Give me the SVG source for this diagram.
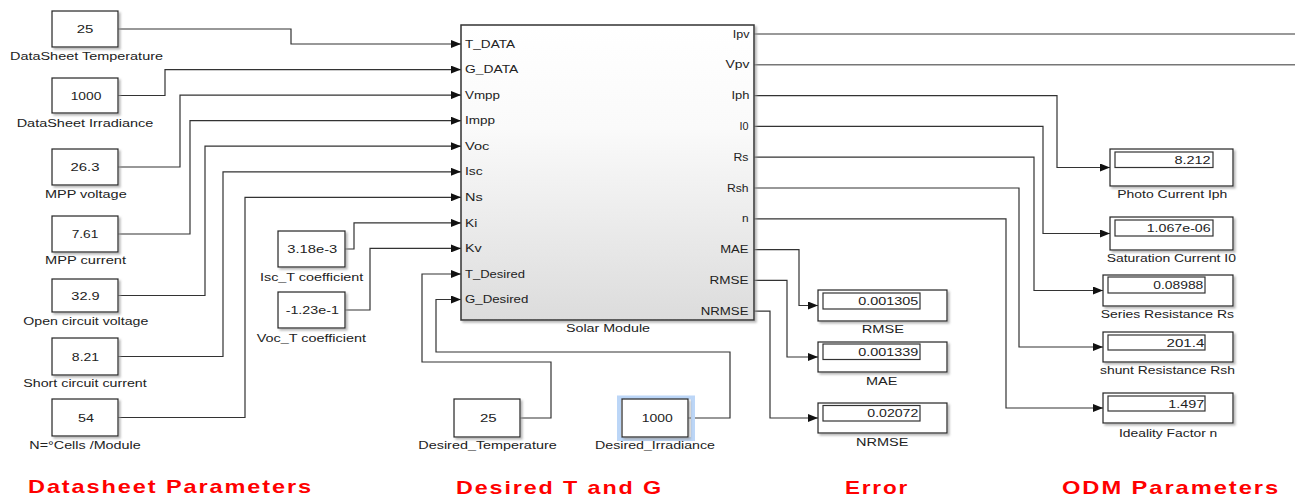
<svg xmlns="http://www.w3.org/2000/svg" width="1295" height="497" viewBox="0 0 1295 497">
<style>
text{font-family:"Liberation Sans",Arial,sans-serif;fill:#222}
.blk{fill:#fff;stroke:#222;stroke-width:1.2;filter:url(#sh)}
.fld{fill:#fff;stroke:#333;stroke-width:1.2}
.lbl{font-size:10px}
.val{font-size:11px}
.port{font-size:10px}
.ttl{font-size:18.5px;font-weight:bold;fill:#ff0000;letter-spacing:1.5px}
.w{fill:none;stroke:#333;stroke-width:1.2}
.wa{fill:none;stroke:#333;stroke-width:1.2;marker-end:url(#ar)}
.wg{fill:none;stroke:#777;stroke-width:1.6}
</style>
<defs>
<marker id="ar" markerWidth="10" markerHeight="8" refX="10" refY="4" orient="auto" markerUnits="userSpaceOnUse">
<path d="M0,0 L10,4 L0,8 z" fill="#111"/>
</marker>
<filter id="sh" x="-10%" y="-10%" width="130%" height="130%">
<feDropShadow dx="2" dy="2" stdDeviation="1" flood-color="#999" flood-opacity="0.7"/>
</filter>
<linearGradient id="g" x1="0" y1="0" x2="0" y2="1">
<stop offset="0" stop-color="#ffffff"/>
<stop offset="0.35" stop-color="#fafafa"/>
<stop offset="1" stop-color="#dcdcdc"/>
</linearGradient>
</defs>
<rect width="1295" height="497" fill="#fff"/>

<g id="connectors">
<path class="wa" d="M118,29 H291 V44 H461"/>
<path class="wa" d="M118,95.5 H165 V69.6 H461"/>
<path class="wa" d="M118,167 H180 V95.1 H461"/>
<path class="wa" d="M118,234 H190 V120.7 H461"/>
<path class="wa" d="M118,295.5 H205 V146.2 H461"/>
<path class="wa" d="M118,356.5 H223 V171.8 H461"/>
<path class="wa" d="M118,417.5 H245 V197.3 H461"/>
<path class="wa" d="M345,249 H354 V222.9 H461"/>
<path class="wa" d="M345,310 H370 V248.4 H461"/>
<path class="wa" d="M520,418 H551 V362 H422 V274 H461"/>
<path class="wa" d="M688,418 H730 V352 H436 V299.5 H461"/>
<path class="wg" d="M754,34 H1295"/>
<path class="wg" d="M754,64.8 H1295"/>
<path class="wa" d="M754,95.6 H1057 V167.5 H1110"/>
<path class="wa" d="M754,126.4 H1043 V233.5 H1110"/>
<path class="wa" d="M754,157.2 H1034 V290.5 H1103"/>
<path class="wa" d="M754,188 H1019 V347 H1103"/>
<path class="wa" d="M754,218.8 H1006 V408 H1103"/>
<path class="wa" d="M754,249.6 H799 V305.5 H818"/>
<path class="wa" d="M754,280.4 H787 V357 H818"/>
<path class="wa" d="M754,311.2 H770 V418 H818"/>
</g>

<g id="c_dstemp"><rect class="blk" x="52" y="11" width="66" height="36"/><text class="val" x="85" y="33" text-anchor="middle" textLength="16.7" lengthAdjust="spacingAndGlyphs">25</text><text class="lbl" x="10" y="60" textLength="153" lengthAdjust="spacingAndGlyphs">DataSheet Temperature</text></g>
<g id="c_dsirr"><rect class="blk" x="52" y="78" width="66" height="35"/><text class="val" x="86" y="99.5" text-anchor="middle" textLength="30.7" lengthAdjust="spacingAndGlyphs">1000</text><text class="lbl" x="16.7" y="126.7" textLength="136.6" lengthAdjust="spacingAndGlyphs">DataSheet Irradiance</text></g>
<g id="c_vmpp"><rect class="blk" x="52" y="149" width="66" height="36"/><text class="val" x="85" y="171" text-anchor="middle" textLength="29" lengthAdjust="spacingAndGlyphs">26.3</text><text class="lbl" x="45" y="197.5" textLength="81.7" lengthAdjust="spacingAndGlyphs">MPP voltage</text></g>
<g id="c_impp"><rect class="blk" x="52" y="216" width="66" height="36"/><text class="val" x="85" y="238" text-anchor="middle" textLength="26.7" lengthAdjust="spacingAndGlyphs">7.61</text><text class="lbl" x="45" y="264" textLength="81" lengthAdjust="spacingAndGlyphs">MPP current</text></g>
<g id="c_voc"><rect class="blk" x="52" y="279" width="66" height="33"/><text class="val" x="85.5" y="299.5" text-anchor="middle" textLength="28.3" lengthAdjust="spacingAndGlyphs">32.9</text><text class="lbl" x="23.3" y="325" textLength="125" lengthAdjust="spacingAndGlyphs">Open circuit voltage</text></g>
<g id="c_isc"><rect class="blk" x="52" y="338" width="66" height="37"/><text class="val" x="85.5" y="360.5" text-anchor="middle" textLength="27.3" lengthAdjust="spacingAndGlyphs">8.21</text><text class="lbl" x="23.3" y="387.3" textLength="123.4" lengthAdjust="spacingAndGlyphs">Short circuit current</text></g>
<g id="c_ns"><rect class="blk" x="52" y="399" width="66" height="37"/><text class="val" x="86" y="421.5" text-anchor="middle" textLength="16" lengthAdjust="spacingAndGlyphs">54</text><text class="lbl" x="29.3" y="449" textLength="111.4" lengthAdjust="spacingAndGlyphs">N=°Cells /Module</text></g>

<g id="c_ki"><rect class="blk" x="278" y="231" width="67" height="36"/><text class="val" x="312.3" y="253" text-anchor="middle" textLength="50" lengthAdjust="spacingAndGlyphs">3.18e-3</text><text class="lbl" x="260" y="280.7" textLength="103.3" lengthAdjust="spacingAndGlyphs">Isc_T coefficient</text></g>
<g id="c_kv"><rect class="blk" x="278" y="292" width="67" height="36"/><text class="val" x="312.3" y="314" text-anchor="middle" textLength="53.3" lengthAdjust="spacingAndGlyphs">-1.23e-1</text><text class="lbl" x="256.7" y="341.7" textLength="109.3" lengthAdjust="spacingAndGlyphs">Voc_T coefficient</text></g>

<g id="c_tdes"><rect class="blk" x="454" y="399" width="66" height="38"/><text class="val" x="488.3" y="422" text-anchor="middle" textLength="16.7" lengthAdjust="spacingAndGlyphs">25</text><text class="lbl" x="418.3" y="449" textLength="138.4" lengthAdjust="spacingAndGlyphs">Desired_Temperature</text></g>
<g id="c_gdes"><rect x="619" y="397.5" width="74" height="41.5" fill="none" stroke="#bcd6f7" stroke-width="4"/><rect class="blk" x="622" y="399" width="66" height="38"/><text class="val" x="657.2" y="422" text-anchor="middle" textLength="31" lengthAdjust="spacingAndGlyphs">1000</text><text class="lbl" x="595" y="449" textLength="120" lengthAdjust="spacingAndGlyphs">Desired_Irradiance</text></g>

<g id="solar_module">
<rect x="461" y="25" width="293" height="295" fill="url(#g)" stroke="#333" stroke-width="1.5" filter="url(#sh)"/>
<text class="port" x="465" y="47.6" textLength="50" lengthAdjust="spacingAndGlyphs">T_DATA</text>
<text class="port" x="465" y="73.2" textLength="53.3" lengthAdjust="spacingAndGlyphs">G_DATA</text>
<text class="port" x="465" y="98.7" textLength="35" lengthAdjust="spacingAndGlyphs">Vmpp</text>
<text class="port" x="465" y="124.3" textLength="30" lengthAdjust="spacingAndGlyphs">Impp</text>
<text class="port" x="465" y="149.8" textLength="24.3" lengthAdjust="spacingAndGlyphs">Voc</text>
<text class="port" x="465" y="175.4" textLength="17.7" lengthAdjust="spacingAndGlyphs">Isc</text>
<text class="port" x="465" y="200.9" textLength="17.7" lengthAdjust="spacingAndGlyphs">Ns</text>
<text class="port" x="465" y="226.5" textLength="12.3" lengthAdjust="spacingAndGlyphs">Ki</text>
<text class="port" x="465" y="252" textLength="16.7" lengthAdjust="spacingAndGlyphs">Kv</text>
<text class="port" x="465" y="277.6" textLength="60" lengthAdjust="spacingAndGlyphs">T_Desired</text>
<text class="port" x="465" y="303.1" textLength="63.3" lengthAdjust="spacingAndGlyphs">G_Desired</text>
<text class="port" x="749.5" y="37.6" text-anchor="end" textLength="16.7" lengthAdjust="spacingAndGlyphs">Ipv</text>
<text class="port" x="749.5" y="68.4" text-anchor="end" textLength="24" lengthAdjust="spacingAndGlyphs">Vpv</text>
<text class="port" x="749.5" y="99.2" text-anchor="end" textLength="18" lengthAdjust="spacingAndGlyphs">Iph</text>
<text class="port" x="748.5" y="130" text-anchor="end" textLength="9" lengthAdjust="spacingAndGlyphs">I0</text>
<text class="port" x="748.5" y="160.8" text-anchor="end" textLength="15" lengthAdjust="spacingAndGlyphs">Rs</text>
<text class="port" x="748.5" y="191.6" text-anchor="end" textLength="21.6" lengthAdjust="spacingAndGlyphs">Rsh</text>
<text class="port" x="748.5" y="222.4" text-anchor="end" textLength="6.6" lengthAdjust="spacingAndGlyphs">n</text>
<text class="port" x="748.5" y="253.2" text-anchor="end" textLength="28.3" lengthAdjust="spacingAndGlyphs">MAE</text>
<text class="port" x="748.5" y="284" text-anchor="end" textLength="39" lengthAdjust="spacingAndGlyphs">RMSE</text>
<text class="port" x="748.5" y="314.8" text-anchor="end" textLength="47.7" lengthAdjust="spacingAndGlyphs">NRMSE</text>
<text class="lbl" x="566" y="332" textLength="84" lengthAdjust="spacingAndGlyphs">Solar Module</text>
</g>

<g id="d_iph"><rect class="blk" x="1110" y="149" width="123" height="37"/><rect class="fld" x="1115" y="152" width="98" height="15.5"/><text class="val" x="1210.7" y="163.5" text-anchor="end" textLength="36.3" lengthAdjust="spacingAndGlyphs">8.212</text><text class="lbl" x="1117.3" y="198" textLength="110" lengthAdjust="spacingAndGlyphs">Photo Current Iph</text></g>
<g id="d_i0"><rect class="blk" x="1110" y="217" width="123" height="33"/><rect class="fld" x="1115" y="220" width="98" height="16"/><text class="val" x="1210.7" y="232" text-anchor="end" textLength="64" lengthAdjust="spacingAndGlyphs">1.067e-06</text><text class="lbl" x="1106.7" y="262.3" textLength="129.3" lengthAdjust="spacingAndGlyphs">Saturation Current I0</text></g>
<g id="d_rs"><rect class="blk" x="1103" y="275" width="130" height="31"/><rect class="fld" x="1108" y="277" width="97" height="16"/><text class="val" x="1203.3" y="289" text-anchor="end" textLength="50" lengthAdjust="spacingAndGlyphs">0.08988</text><text class="lbl" x="1100.7" y="317.7" textLength="133.3" lengthAdjust="spacingAndGlyphs">Series Resistance Rs</text></g>
<g id="d_rsh"><rect class="blk" x="1103" y="332" width="130" height="30"/><rect class="fld" x="1108" y="335" width="97" height="15"/><text class="val" x="1204.3" y="346.5" text-anchor="end" textLength="37.7" lengthAdjust="spacingAndGlyphs">201.4</text><text class="lbl" x="1100" y="374.3" textLength="135" lengthAdjust="spacingAndGlyphs">shunt Resistance Rsh</text></g>
<g id="d_n"><rect class="blk" x="1103" y="393" width="130" height="30"/><rect class="fld" x="1108" y="396" width="97" height="15"/><text class="val" x="1204.3" y="407.5" text-anchor="end" textLength="36" lengthAdjust="spacingAndGlyphs">1.497</text><text class="lbl" x="1119" y="436.7" textLength="98.3" lengthAdjust="spacingAndGlyphs">Ideality Factor n</text></g>

<g id="d_rmse"><rect class="blk" x="818" y="290" width="129" height="31"/><rect class="fld" x="823" y="293" width="97" height="16"/><text class="val" x="918.3" y="305" text-anchor="end" textLength="60" lengthAdjust="spacingAndGlyphs">0.001305</text><text class="lbl" x="861.7" y="333.3" textLength="42.3" lengthAdjust="spacingAndGlyphs">RMSE</text></g>
<g id="d_mae"><rect class="blk" x="818" y="342" width="129" height="30"/><rect class="fld" x="823" y="344" width="97" height="15.5"/><text class="val" x="918.3" y="355.7" text-anchor="end" textLength="60" lengthAdjust="spacingAndGlyphs">0.001339</text><text class="lbl" x="866" y="385" textLength="31.3" lengthAdjust="spacingAndGlyphs">MAE</text></g>
<g id="d_nrmse"><rect class="blk" x="818" y="403" width="129" height="30"/><rect class="fld" x="823" y="405.5" width="97" height="15.5"/><text class="val" x="918.3" y="417.2" text-anchor="end" textLength="51" lengthAdjust="spacingAndGlyphs">0.02072</text><text class="lbl" x="856" y="446" textLength="52.3" lengthAdjust="spacingAndGlyphs">NRMSE</text></g>

<g id="titles">
<text class="ttl" x="28" y="493" textLength="285" lengthAdjust="spacingAndGlyphs">Datasheet Parameters</text>
<text class="ttl" x="456" y="494" textLength="207" lengthAdjust="spacingAndGlyphs">Desired T and G</text>
<text class="ttl" x="845" y="494" textLength="64" lengthAdjust="spacingAndGlyphs">Error</text>
<text class="ttl" x="1062" y="494" textLength="218" lengthAdjust="spacingAndGlyphs">ODM Parameters</text>
</g>
</svg>
